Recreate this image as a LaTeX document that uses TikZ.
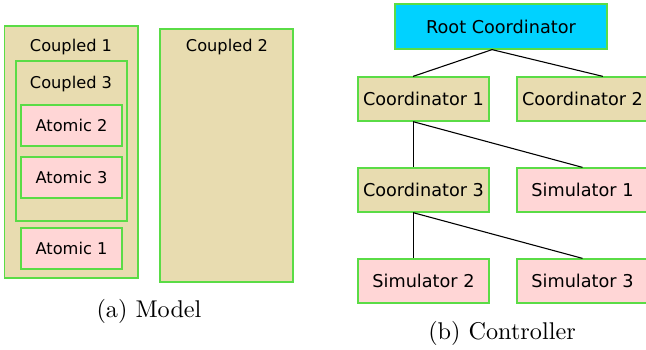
\documentclass[tikz,border=0pt]{standalone}
\usepackage{fontspec}
\newfontfamily\boxfont{DejaVu Sans}
\definecolor{boxgreen}{RGB}{90,220,70}
\definecolor{coupledfill}{RGB}{232,220,176}
\definecolor{atomicfill}{RGB}{255,214,214}
\definecolor{rootfill}{RGB}{0,210,255}
\begin{document}
\begin{tikzpicture}[x=0.413pt, y=-0.413pt,
	box/.style={draw=boxgreen, line width=0.5pt, inner sep=0pt},
	modeltext/.style={font=\boxfont\fontsize{6.7}{8}\selectfont},
	coupled/.style={box, fill=coupledfill},
	atomic/.style={box, modeltext, fill=atomicfill, minimum width=41.7pt, minimum height=16.9pt},
	ctrl/.style={box, minimum width=54.1pt, minimum height=18.2pt, font=\boxfont\fontsize{7.3}{9}\selectfont}]
	\useasboundingbox (0,0) rectangle (646,349);
	\clip (0,0) rectangle (646,349);

	% Model: nested coupled and atomic models
	\node[coupled, minimum width=55.1pt, minimum height=104.1pt] (coupled1) at (71.3,152) {};
	\node[modeltext] (coupled1label) at (71,47) {Coupled 1};
	\node[coupled, minimum width=45.8pt, minimum height=66.1pt] (coupled3) at (71.5,141) {};
	\node[modeltext] (coupled3label) at (71,84) {Coupled 3};
	\node[atomic] (atomic2) at (71.5,125.5) {Atomic 2};
	\node[atomic] (atomic3) at (71.5,177.5) {Atomic 3};
	\node[atomic] (atomic1) at (71.5,248.5) {Atomic 1};
	\node[coupled, minimum width=54.9pt, minimum height=104.5pt] (coupled2) at (226.5,155.5) {};
	\node[modeltext] (coupled2label) at (227,47) {Coupled 2};
	\node (capmodel) at (149,311) {(a) Model};

	% Controller: tree of coordinators and simulators
	\node[ctrl, fill=rootfill, minimum width=87.6pt, minimum height=18.6pt] (root) at (501,26.5) {Root Coordinator};
	\node[ctrl, fill=coupledfill] (coord1) at (423.5,99) {Coordinator 1};
	\node[ctrl, fill=coupledfill] (coord2) at (582.5,99) {Coordinator 2};
	\node[ctrl, fill=coupledfill] (coord3) at (423.5,190) {Coordinator 3};
	\node[ctrl, fill=atomicfill] (sim1) at (582.5,190) {Simulator 1};
	\node[ctrl, fill=atomicfill] (sim2) at (423.5,281) {Simulator 2};
	\node[ctrl, fill=atomicfill] (sim3) at (582.5,281) {Simulator 3};
	\node (capctrl) at (502,333) {(b) Controller};

	% Edges
	\draw[line width=0.45pt] ([xshift=-3.7pt]root.south) -- ([xshift=-4.3pt]coord1.north);
	\draw[line width=0.45pt] ([xshift=-3.7pt]root.south) -- ([xshift=8.4pt]coord2.north);
	\draw[line width=0.45pt] ([xshift=-4.3pt]coord1.south) -- ([xshift=-4.3pt]coord3.north);
	\draw[line width=0.45pt] ([xshift=-4.3pt]coord1.south) -- (sim1.north);
	\draw[line width=0.45pt] ([xshift=-4.3pt]coord3.south) -- ([xshift=-4.3pt]sim2.north);
	\draw[line width=0.45pt] ([xshift=-4.3pt]coord3.south) -- (sim3.north);

\end{tikzpicture}
\end{document}
